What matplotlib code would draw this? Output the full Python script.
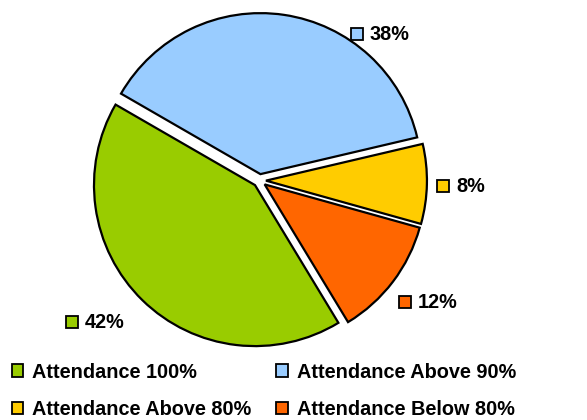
import matplotlib
matplotlib.use("Agg")
import matplotlib.pyplot as plt
from matplotlib.patches import Patch

# Data (order drawn clockwise from 150 deg)
categories = ["Attendance Above 90%", "Attendance Above 80%", "Attendance Below 80%", "Attendance 100%"]
values = [38, 8, 12, 42]
pct_labels = ["38%", "8%", "12%", "42%"]
colors = ["#99CCFF", "#FFCC00", "#FF6600", "#99CC00"]

W, H = 587, 420
R = 161.0
CX, CY = 259.5, 180.5

def px(x, y):
    return ((x - CX) / R, (CY - y) / R)

plt.rcParams['font.family'] = ['Liberation Sans', 'DejaVu Sans']
fig = plt.figure(figsize=(W / 100, H / 100), dpi=100)
ax = fig.add_axes([0, 0, 1, 1])

wedges, _ = ax.pie(values, colors=colors, startangle=150, counterclock=False,
                   explode=[0.04] * 4, radius=1.0, center=(0, 0),
                   wedgeprops=dict(edgecolor='black', linewidth=1.6))
ax.set_xlim(-CX / R, (W - CX) / R)
ax.set_ylim((CY - H) / R, CY / R)
ax.set_aspect('equal')
ax.axis('off')

# data labels (positions in pixels of the reference)
label_pos = [(357, 34), (443, 186), (405, 302), (72, 322)]
for (lx, ly), lab, col in zip(label_pos, pct_labels, colors):
    x, y = px(lx, ly)
    ax.plot([x], [y], marker='s', markersize=8, markerfacecolor=col,
            markeredgecolor='black', markeredgewidth=1.3, linestyle='none')
    tx, _ = px(lx + 13, ly)
    ax.text(tx, y, lab, fontsize=14.3, fontweight='bold', ha='left', va='center')

# legend: row1 green, blue; row2 yellow, orange
order = [3, 1, 0, 2]
handles = [Patch(facecolor=colors[i], edgecolor='black', linewidth=1.3) for i in order]
labels = [categories[i] for i in order]
fig.legend(handles, labels, ncol=2, frameon=False, loc='lower left',
           bbox_to_anchor=(-0.004, -0.031), prop=dict(size=14.3, weight='bold'),
           handlelength=0.6, handleheight=0.6, handletextpad=0.45,
           columnspacing=1.25, labelspacing=0.93, borderpad=0.2)

fig.savefig("out.png", dpi=100)
